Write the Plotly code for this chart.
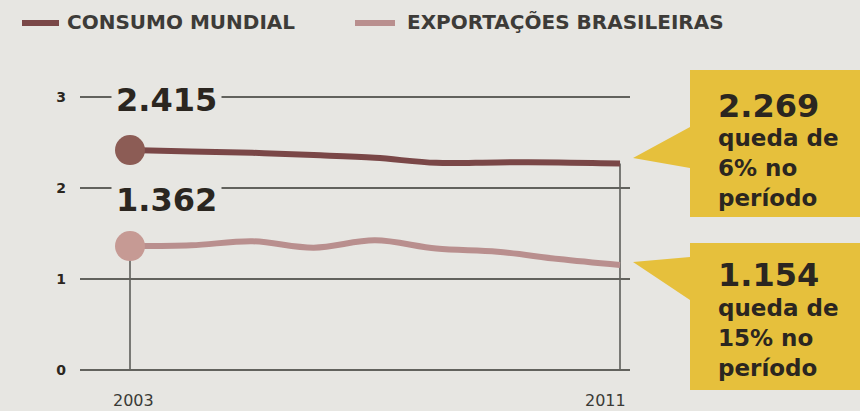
import plotly.graph_objects as go

# ---- data ----
years = [2003, 2004, 2005, 2006, 2007, 2008, 2009, 2010, 2011]
consumo_mundial = [2.415, 2.400, 2.385, 2.360, 2.330, 2.275, 2.280, 2.280, 2.269]
exportacoes_brasileiras = [1.362, 1.370, 1.415, 1.345, 1.425, 1.335, 1.300, 1.220, 1.154]
series_names = ["CONSUMO MUNDIAL", "EXPORTAÇÕES BRASILEIRAS"]
y_ticks = [0, 1, 2, 3]
x_ticks = [2003, 2011]

# ---- style ----
W, H = 860, 411
PL, PR, PT, PB = 80, 630, 94, 373   # plot area in pixels
BG = "#e7e6e2"
GRID = "#62625d"
C_CONS = "#7a4747"
C_CONS_DOT = "#8c5c55"
C_EXP = "#b98f8e"
C_EXP_DOT = "#c69a94"
YELLOW = "#e6c03c"
TXT = "#2b2620"
LEG_TXT = "#3d3b38"
FONT = "DejaVu Sans"


def px(x):
    return (x - PL) / (PR - PL)


def py(y):
    return (PB - y) / (PB - PT)


def fmt(v):
    return f"{v:.3f}"


fig = go.Figure()

# drop lines at the ends
fig.add_shape(type="line", xref="x", yref="y", x0=years[0], x1=years[0], y0=0,
              y1=exportacoes_brasileiras[0], line=dict(color="#555550", width=1.5), layer="below")
fig.add_shape(type="line", xref="x", yref="y", x0=years[-1], x1=years[-1], y0=0,
              y1=consumo_mundial[-1], line=dict(color="#555550", width=1.5), layer="below")

fig.add_trace(go.Scatter(x=years, y=consumo_mundial, mode="lines", name=series_names[0],
                         line=dict(color=C_CONS, width=6, shape="spline", smoothing=1.0)))
fig.add_trace(go.Scatter(x=years, y=exportacoes_brasileiras, mode="lines", name=series_names[1],
                         line=dict(color=C_EXP, width=6, shape="spline", smoothing=1.0)))
fig.add_trace(go.Scatter(x=[years[0]], y=[consumo_mundial[0]], mode="markers", showlegend=False,
                         marker=dict(color=C_CONS_DOT, size=30, line=dict(width=0))))
fig.add_trace(go.Scatter(x=[years[0]], y=[exportacoes_brasileiras[0]], mode="markers", showlegend=False,
                         marker=dict(color=C_EXP_DOT, size=30, line=dict(width=0))))

# manual legend (swatch + label)
for name, col, x0, x1, xt in [(series_names[0], C_CONS, 22, 59, 65),
                              (series_names[1], C_EXP, 355, 395, 405)]:
    fig.add_shape(type="line", xref="paper", yref="paper", x0=px(x0), x1=px(x1),
                  y0=py(23), y1=py(23), line=dict(color=col, width=6))
    fig.add_annotation(x=px(xt), y=py(22), xref="paper", yref="paper", text=name,
                       xanchor="left", yanchor="middle", showarrow=False,
                       font=dict(family=FONT, size=20, color=LEG_TXT, weight="bold"))

# start labels
fig.add_annotation(x=years[0], y=3, xref="x", yref="y", text=fmt(consumo_mundial[0]),
                   xanchor="left", yanchor="middle", xshift=-19, yshift=-3, showarrow=False,
                   font=dict(family=FONT, size=32, color=TXT, weight="bold"),
                   bgcolor=BG, borderpad=4)
fig.add_annotation(x=years[0], y=2, xref="x", yref="y", text=fmt(exportacoes_brasileiras[0]),
                   xanchor="left", yanchor="middle", xshift=-19, yshift=-12, showarrow=False,
                   font=dict(family=FONT, size=32, color=TXT, weight="bold"),
                   bgcolor=BG, borderpad=4)

# year labels
for yr, shift in zip(x_ticks, [3, -15]):
    fig.add_annotation(x=yr, y=py(400), xref="x", yref="paper", text=str(yr),
                       xanchor="center", yanchor="middle", xshift=shift, showarrow=False,
                       font=dict(family=FONT, size=16, color="#3a3a36"))


# callouts
def callout(tip, base_top, base_bot, top, bot, left=690, right=875):
    pts = [tip, (left, base_top), (left, top), (right, top), (right, bot), (left, bot), (left, base_bot)]
    path = "M " + " L ".join(f"{px(a):.4f},{py(b):.4f}" for a, b in pts) + " Z"
    fig.add_shape(type="path", xref="paper", yref="paper", path=path,
                  fillcolor=YELLOW, line=dict(width=0), layer="above")


callout((633, 158), 127, 168, 70, 217)
callout((633, 262), 257, 300, 243, 390)

drop_c = round((1 - consumo_mundial[-1] / consumo_mundial[0]) * 100)
drop_e = round((1 - exportacoes_brasileiras[-1] / exportacoes_brasileiras[0]) * 100)

for val, drop, ynum, yblock in [(consumo_mundial[-1], drop_c, 106, 168),
                                (exportacoes_brasileiras[-1], drop_e, 275, 338)]:
    fig.add_annotation(x=px(716), y=py(ynum), xref="paper", yref="paper", text=fmt(val),
                       xanchor="left", yanchor="middle", showarrow=False,
                       font=dict(family=FONT, size=32, color=TXT, weight="bold"))
    fig.add_annotation(x=px(716), y=py(yblock), xref="paper", yref="paper",
                       text=f"queda de<br>{drop}% no<br>período", align="left",
                       xanchor="left", yanchor="middle", showarrow=False,
                       font=dict(family=FONT, size=23, color=TXT, weight="bold"))

fig.update_layout(
    width=W, height=H,
    margin=dict(l=PL, r=W - PR, t=PT, b=H - PB, pad=0),
    paper_bgcolor=BG, plot_bgcolor=BG,
    showlegend=False,
    xaxis=dict(range=[years[0] - 50 / 61.25, years[-1] + 10 / 61.25],
               showgrid=False, zeroline=False, showline=False, ticks="", showticklabels=False),
    yaxis=dict(range=[-0.03, 3.03], tickvals=y_ticks, showgrid=True, gridcolor=GRID, gridwidth=2,
               zeroline=False, showline=False, ticks="",
               tickfont=dict(family=FONT, size=14, color=TXT, weight="bold"), ticklabelstandoff=13),
)

fig.write_html("out.html", config={"displayModeBar": False},
               post_script="document.body.style.margin='0';document.body.style.background='%s';" % BG)
